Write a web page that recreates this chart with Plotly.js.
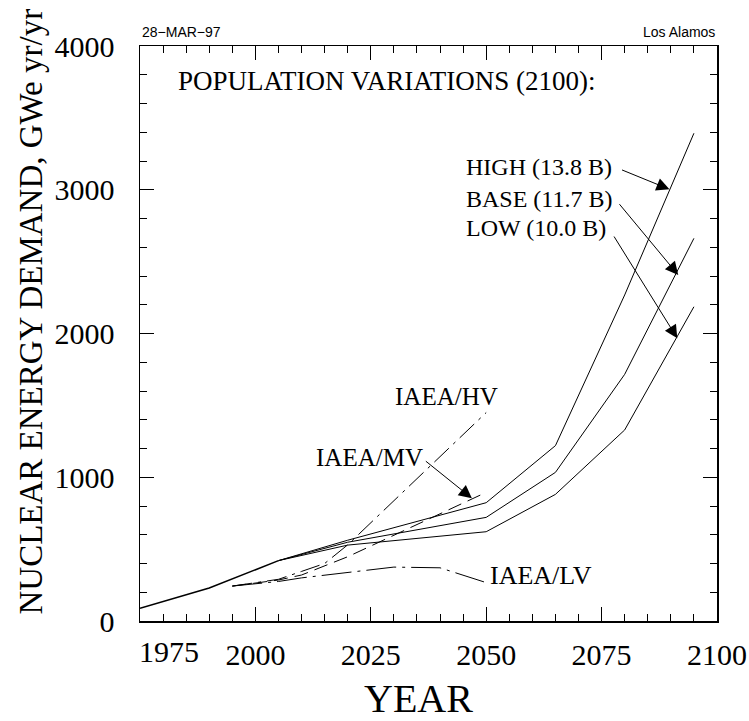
<!DOCTYPE html>
<html>
<head>
<meta charset="utf-8">
<script src="https://cdn.plot.ly/plotly-3.0.1.min.js"></script>
<style>
  html, body { margin: 0; padding: 0; background: #fff; }
  #chart { width: 749px; height: 721px; }
</style>
</head>
<body>
<div id="chart"></div>
<script>
// ---- data ----
const histYears = [1975, 1990, 2005];
const histVals = [88, 230, 420];

const popYears = [2005, 2020, 2050, 2065, 2080, 2095];
const highVals = [420, 562, 823, 1220, 2268, 3393];
const baseVals = [420, 548, 721, 1034, 1716, 2662];
const lowVals  = [420, 528, 621, 881, 1329, 2186];

const hvYears = [1995, 2005, 2010, 2015, 2020, 2050];
const hvVals  = [243, 290, 345, 400, 530, 1450];
const mvYears = [1995, 2005, 2010, 2020, 2050];
const mvVals  = [243, 285, 320, 447, 895];
const lvYears = [1995, 2005, 2010, 2020, 2030, 2040, 2050];
const lvVals  = [243, 275, 300, 340, 375, 370, 267];

const xTickVals = [2000, 2025, 2050, 2075, 2100];
const yTickVals = [0, 1000, 2000, 3000, 4000];

const serif = 'Liberation Serif';
const sans = 'Liberation Sans';

function line(x, y, dash, width) {
  return { x: x, y: y, type: 'scatter', mode: 'lines', hoverinfo: 'skip',
           line: { color: '#000', width: width || 1, dash: dash || 'solid' } };
}

const traces = [
  line(histYears, histVals, 'solid', 1.6),
  line(popYears, highVals),
  line(popYears, baseVals),
  line(popYears, lowVals),
  line(hvYears, hvVals, '20px,6px,3px,6px'),
  line(mvYears, mvVals, '14px,7px'),
  line(lvYears, lvVals, '30px,6px,3px,6px')
];

function label(text, x, y, size, xanchor) {
  return { text: text, x: x, y: y, xref: 'x', yref: 'y', showarrow: false,
           xanchor: xanchor || 'left', yanchor: 'middle',
           font: { family: serif, size: size, color: '#000' } };
}
function arrow(x, y, ax, ay) {
  return { text: '', x: x, y: y, ax: ax, ay: ay, xref: 'x', yref: 'y',
           axref: 'x', ayref: 'y', showarrow: true, arrowhead: 2,
           arrowsize: 2.6, arrowwidth: 1, arrowcolor: '#000', standoff: 0, startstandoff: 0 };
}

const annotations = [
  label('POPULATION VARIATIONS (2100):', 1982.7, 3760, 27),
  label('HIGH (13.8 B)', 2045.2, 3160, 24),
  label('BASE (11.7 B)', 2045.2, 2935, 24),
  label('LOW (10.0 B)', 2045.2, 2737, 24),
  label('IAEA/HV', 2029.9, 1565, 25),
  label('IAEA/MV', 2012.8, 1140, 25),
  label('IAEA/LV', 2050.4, 320, 26),
  arrow(2089.7, 3003, 2079.1, 3142),
  arrow(2091.6, 2407, 2078.6, 2910),
  arrow(2091.4, 1967, 2077.5, 2685),
  arrow(2046.9, 854, 2036.6, 1120),
  { text: '1975', x: 1975, y: 0, xref: 'x', yref: 'paper', showarrow: false,
    xanchor: 'left', yanchor: 'top', yshift: -12, xshift: -3,
    font: { family: serif, size: 30, color: '#000' } },
  { text: 'YEAR', x: 0.5, y: -0.135, xref: 'paper', yref: 'paper', showarrow: false,
    xanchor: 'center', yanchor: 'middle', xshift: -10,
    font: { family: serif, size: 40, color: '#000' } },
  { text: 'NUCLEAR ENERGY DEMAND, GWe yr/yr', x: 0, y: 0.5, xref: 'paper', yref: 'paper',
    showarrow: false, textangle: -90, xanchor: 'center', yanchor: 'middle',
    xshift: -110, yshift: 22,
    font: { family: serif, size: 33, color: '#000' } },
  { text: '28\u2212MAR\u221297', x: 0, y: 1, xref: 'paper', yref: 'paper', showarrow: false,
    xanchor: 'left', yanchor: 'bottom', xshift: 0, yshift: 4,
    font: { family: sans, size: 14, color: '#000' } },
  { text: 'Los Alamos', x: 1, y: 1, xref: 'paper', yref: 'paper', showarrow: false,
    xanchor: 'right', yanchor: 'bottom', xshift: 0, yshift: 4,
    font: { family: sans, size: 14, color: '#000' } }
];

const layout = {
  width: 749, height: 721,
  margin: { l: 140, r: 32, t: 46, b: 100 },
  paper_bgcolor: '#fff', plot_bgcolor: '#fff',
  showlegend: false,
  font: { family: serif, color: '#000' },
  xaxis: {
    range: [1975, 2100], showgrid: false, zeroline: false,
    showline: true, linecolor: '#000', linewidth: 1.5, mirror: 'allticks',
    ticks: 'inside', ticklen: 14, tickwidth: 1.2, tickcolor: '#000',
    tickvals: xTickVals, ticktext: xTickVals.map(String),
    ticklabelstandoff: 6,
    tickfont: { family: serif, size: 30, color: '#000' },
    minor: { ticks: 'inside', ticklen: 7, dtick: 5, tick0: 1975, tickcolor: '#000', tickwidth: 1, showgrid: false }
  },
  yaxis: {
    range: [0, 4000], showgrid: false, zeroline: false,
    showline: true, linecolor: '#000', linewidth: 1.5, mirror: 'allticks',
    ticks: 'inside', ticklen: 14, tickwidth: 1.2, tickcolor: '#000',
    tickvals: yTickVals, ticktext: yTickVals.map(String),
    ticklabelstandoff: 18,
    tickfont: { family: serif, size: 30, color: '#000' },
    minor: { ticks: 'inside', ticklen: 7, dtick: 200, tick0: 0, tickcolor: '#000', tickwidth: 1, showgrid: false }
  },
  annotations: annotations
};

Plotly.newPlot('chart', traces, layout, { displayModeBar: false, staticPlot: true });
</script>
</body>
</html>
